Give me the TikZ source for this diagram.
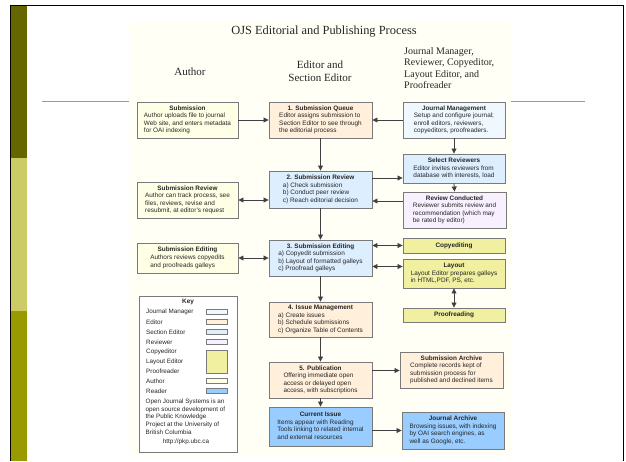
\documentclass[tikz,border=0pt]{standalone}
\usepackage{fontspec}
\setmainfont{Liberation Serif}
\setsansfont{Liberation Sans}
\usetikzlibrary{arrows.meta}
\definecolor{cAuthor}{HTML}{FFFFE6}
\definecolor{cEditor}{HTML}{FFEFDB}
\definecolor{cSection}{HTML}{DDEEFF}
\definecolor{cJM}{HTML}{F0F8FF}
\definecolor{cReviewer}{HTML}{F8F0FF}
\definecolor{cCopy}{HTML}{F0F0A0}
\definecolor{cReader}{HTML}{99CCFF}
\definecolor{cBorder}{HTML}{7A7A7A}
\definecolor{cPanel}{HTML}{FFFFF6}
\definecolor{barDark}{HTML}{666600}
\definecolor{barLight}{HTML}{CCCC66}
\definecolor{barMid}{HTML}{999900}
\definecolor{ruleOlive}{HTML}{AAAA22}
\newcommand\bxt[2]{\begin{tabular}{@{}l@{}}\multicolumn{1}{@{}c@{}}{\bfseries #1}\\#2\end{tabular}}
\tikzset{
  bx/.style={draw=cBorder, line width=0.9pt, inner sep=0pt, font=\sffamily\fontsize{6.4}{7.6}\selectfont, text=black!85},
  arr/.style={draw=black!75, line width=0.8pt, -{Triangle[length=5pt,width=5pt]}},
  darr/.style={draw=black!75, line width=0.8pt, {Triangle[length=5pt,width=5pt]}-{Triangle[length=5pt,width=5pt]}},
  keyt/.style={font=\sffamily\fontsize{6.3}{7.6}\selectfont, text=black!85, inner sep=0pt},
  sw/.style={draw=cBorder, line width=0.7pt, minimum width=21pt, minimum height=4.5pt, inner sep=0pt},
  hdr/.style={font=\rmfamily\fontsize{11}{12.5}\selectfont, text=black!85, inner sep=0pt, align=center},
}
\begin{document}
\begin{tikzpicture}[x=1pt,y=-1pt]
\useasboundingbox (0,0) rectangle (626,461);
\fill[white] (0,0) rectangle (626,461);
% slide decorations
\fill[barDark] (11,5) rectangle (27,158);
\fill[barLight] (11,158) rectangle (27,311);
\fill[barMid] (11,311) rectangle (27,461);
\draw[black, line width=0.8pt] (10.5,461) -- (10.5,5.5) -- (623,5.5) -- (623,461);
\draw[ruleOlive, line width=1.5pt] (42,101.5) -- (129,101.5);
\draw[ruleOlive, line width=1.5pt] (511,101.5) -- (585,101.5);
% panel
\fill[cPanel] (129,21) rectangle (511,455);
% headings
\node[hdr, font=\rmfamily\fontsize{12.4}{14}\selectfont] (title) at (324,32) {OJS Editorial and Publishing Process};
\node[hdr] (hAuthor) at (190,72) {Author};
\node[hdr] (hEditor) at (320,71) {Editor and\\Section Editor};
\node[hdr, font=\rmfamily\fontsize{10}{11.5}\selectfont, align=left, anchor=west] (hJM) at (404,68) {Journal Manager,\\Reviewer, Copyeditor,\\Layout Editor, and\\Proofreader};
% author column
\node[bx, fill=cAuthor, minimum width=101pt, minimum height=36pt] (A1) at (187.5,120) {\bxt{Submission}{Author uploads file to journal\\Web site, and enters metadata\\for OAI indexing}};
\node[bx, fill=cAuthor, minimum width=101pt, minimum height=36pt] (A2) at (187.5,200) {\bxt{Submission Review}{Author can track process, see\\files, reviews, revise and\\resubmit, at editor's request}};
\node[bx, fill=cAuthor, minimum width=101pt, minimum height=30pt] (A3) at (187.5,258) {\bxt{Submission Editing}{Authors reviews copyedits\\and proofreads galleys}};
% editor column
\node[bx, fill=cEditor, minimum width=103pt, minimum height=36pt] (E1) at (320.5,120) {\bxt{1. Submission Queue}{Editor assigns submission to\\Section Editor to see through\\the editorial process}};
\node[bx, fill=cSection, minimum width=103pt, minimum height=37pt] (E2) at (320.5,189.5) {\bxt{2. Submission Review}{a) Check submission\\b) Conduct peer review\\c) Reach editorial decision}};
\node[bx, fill=cSection, minimum width=103pt, minimum height=36pt] (E3) at (320.5,258) {\bxt{3. Submission Editing}{a) Copyedit submission\\b) Layout of formatted galleys\\c) Proofread galleys}};
\node[bx, fill=cEditor, minimum width=103pt, minimum height=35pt] (E4) at (320.5,319.5) {\bxt{4. Issue Management}{a) Create issues\\b) Schedule submissions\\c) Organize Table of Contents}};
\node[bx, fill=cEditor, minimum width=103pt, minimum height=36pt] (E5) at (320.5,380) {\bxt{5. Publication}{Offering immediate open\\access or delayed open\\access, with subscriptions}};
\node[bx, fill=cReader, minimum width=103pt, minimum height=39pt] (E6) at (320.5,426.5) {\bxt{Current Issue}{Items appear with Reading\\Tools linking to related internal\\and external resources}};
% right column
\node[bx, fill=cJM, minimum width=102pt, minimum height=36pt] (R1) at (454,120) {\bxt{Journal Management}{Setup and configure journal;\\enroll editors, reviewers,\\copyeditors, proofreaders.}};
\node[bx, fill=cSection, minimum width=102pt, minimum height=29pt] (R2) at (454,168.5) {\bxt{Select Reviewers}{Editor invites reviewers from\\database with interests, load}};
\node[bx, fill=cReviewer, minimum width=103pt, minimum height=36pt] (R3) at (454.5,210) {\bxt{Review Conducted}{Reviewer submits review and\\recommendation (which may\\be rated by editor)}};
\node[bx, fill=cCopy, minimum width=102pt, minimum height=15pt, font=\sffamily\bfseries\fontsize{6.4}{7.6}\selectfont] (R4) at (454,245.5) {Copyediting};
\node[bx, fill=cCopy, minimum width=102pt, minimum height=29pt] (R5) at (454,273.5) {\bxt{Layout}{Layout Editor prepares galleys\\in HTML,PDF, PS, etc.}};
\node[bx, fill=cCopy, minimum width=102pt, minimum height=14pt, font=\sffamily\bfseries\fontsize{6.4}{7.6}\selectfont] (R6) at (454,315) {Proofreading};
\node[bx, fill=cEditor, minimum width=103pt, minimum height=36pt] (R7) at (451.5,370) {\bxt{Submission Archive}{Complete records kept of\\submission process for\\published and declined items}};
\node[bx, fill=cReader, minimum width=102pt, minimum height=37pt] (R8) at (453,430.5) {\bxt{Journal Archive}{Browsing issues, with indexing\\by OAI search engines, as\\well as Google, etc.}};
% key
\node[draw=cBorder, line width=0.9pt, fill=white, minimum width=98pt, minimum height=156pt, inner sep=0pt] (key) at (188,374) {};
\node[keyt, font=\sffamily\bfseries\fontsize{6.4}{7.6}\selectfont] (keytitle) at (188,302) {Key};
\foreach \lab/\yy/\nm in {Journal Manager/312/a, Editor/322/b, Section Editor/332/c, Reviewer/342/d, Copyeditor/352/e, Layout Editor/361.5/f, Proofreader/371/g, Author/381/h, Reader/391/i}
  \node[keyt, anchor=west] (k\nm) at (146,\yy) {\lab};
\node[sw, fill=cJM] (sa) at (216.5,312) {};
\node[sw, fill=cEditor] (sb) at (216.5,322) {};
\node[sw, fill=cSection] (sc) at (216.5,332) {};
\node[sw, fill=cReviewer] (sd) at (216.5,342) {};
\node[sw, fill=cCopy, minimum height=23pt] (se) at (216.5,361.5) {};
\node[sw, fill=cAuthor] (sh) at (216.5,381) {};
\node[sw, fill=cReader] (si) at (216.5,391) {};
\node[keyt, anchor=north west, align=left] (keytext) at (145.5,399) {Open Journal Systems is an\\open source development of\\the Public Knowledge\\Project at the University of\\British Columbia};
\node[keyt] (keyurl) at (186,441.5) {http://pkp.ubc.ca};
% helper heights
\coordinate (h178) at (0,178);
\coordinate (h201) at (0,201);
\coordinate (h266) at (0,266.5);
\coordinate (h371) at (0,370.5);
% connectors
\draw[arr] (A1.east) -- (E1.west);
\draw[arr] (R1.west) -- (E1.east);
\draw[arr] (E1.south) -- (E2.north);
\draw[arr] (R1.south) -- (R2.north);
\draw[arr] (E2.east |- h178) -- (R2.west |- h178);
\draw[arr] (R2.south) -- (R3.north);
\draw[arr] (R3.west |- h201) -- (E2.east |- h201);
\draw[darr] (A2.east) -- (E2.west |- A2.east);
\draw[arr] (E2.south) -- (E3.north);
\draw[darr] (E3.east |- R4.west) -- (R4.west);
\draw[darr] (E3.east |- h266) -- (R5.west |- h266);
\draw[darr] (A3.east) -- (E3.west |- A3.east);
\draw[darr] (R5.south) -- (R6.north);
\draw[arr] (E3.south) -- (E4.north);
\draw[arr] (E4.south) -- (E5.north);
\draw[arr] (E5.east |- h371) -- (R7.west |- h371);
\draw[arr] (E5.south) -- (E6.north);
\draw[arr] (E6.east |- R8.west) -- (R8.west);
\end{tikzpicture}
\end{document}
